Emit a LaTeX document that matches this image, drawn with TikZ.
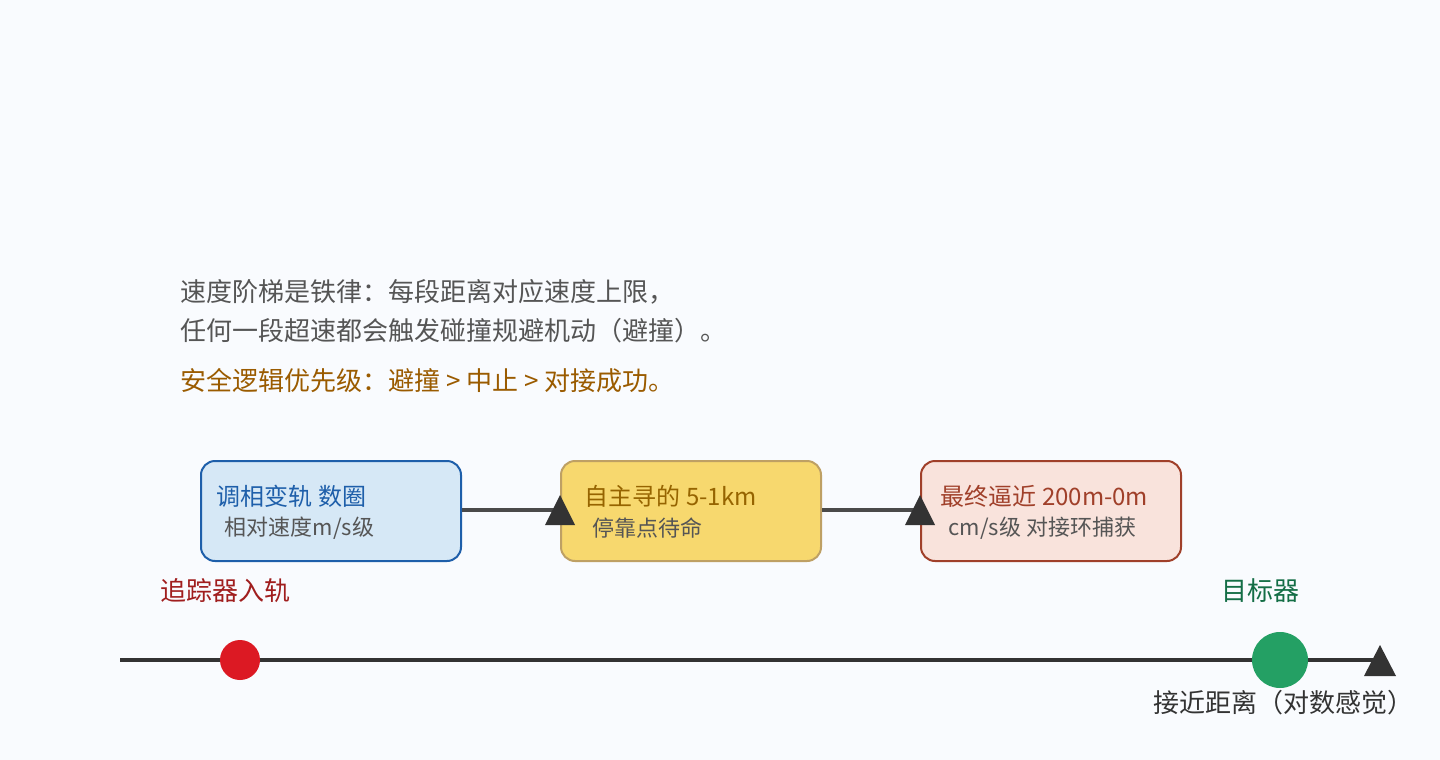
\documentclass[tikz,border=0pt]{standalone}
\usepackage{fontspec}
\setmainfont{Noto Sans CJK SC}
\begin{document}
\begin{tikzpicture}[x=0.75pt,y=-0.75pt,
 box/.style={draw,rounded corners=10.5pt,line width=1.5pt,minimum width=195pt,minimum height=75pt,anchor=north west},
 ttl/.style={anchor=west,font=\fontsize{18pt}{20pt}\selectfont},
 sub/.style={anchor=west,text=gray3,font=\fontsize{16.5pt}{19pt}\selectfont},
 lbl/.style={font=\fontsize{19.5pt}{22pt}\selectfont}]
\definecolor{bg}{HTML}{F9FBFE}
\definecolor{gray3}{HTML}{555555}
\definecolor{dark}{HTML}{333333}
\definecolor{orng}{HTML}{9A5B00}
\fill[bg] (0,0) rectangle (1440,760);
\useasboundingbox (0,0) rectangle (1440,760);
\node[anchor=west,text=gray3,lbl] (t1) at (176,292) {速度阶梯是铁律：每段距离对应速度上限，};
\node[anchor=west,text=gray3,lbl] (t2) at (176,331) {任何一段超速都会触发碰撞规避机动（避撞）。};
\node[anchor=west,text=orng,lbl] (t3) at (176,381) {安全逻辑优先级：避撞 > 中止 > 对接成功。};
% boxes
\node[box,draw={rgb,255:red,30;green,95;blue,170},fill={rgb,255:red,214;green,232;blue,246}] (b1) at (200,460) {};
\node[box,draw={rgb,255:red,190;green,160;blue,100},fill={rgb,255:red,247;green,216;blue,110}] (b2) at (560,460) {};
\node[box,draw={rgb,255:red,160;green,64;blue,42},fill={rgb,255:red,249;green,227;blue,220}] (b3) at (920,460) {};
\node[ttl,text={rgb,255:red,30;green,95;blue,170}] (b1t) at (212,496) {调相变轨 数圈};
\node[sub] (b1s) at (220,528) {相对速度m/s级};
\node[ttl,text={rgb,255:red,150;green,100;blue,0}] (b2t) at (580,496) {自主寻的 5-1km};
\node[sub] (b2s) at (588,528) {停靠点待命};
\node[ttl,text={rgb,255:red,160;green,64;blue,42}] (b3t) at (936,496) {最终逼近 200m-0m};
\node[sub] (b3s) at (944,528) {cm/s级 对接环捕获};
\coordinate (a1) at (560,510);
\coordinate (a2) at (920,510);
\draw[line width=3pt,draw={rgb,255:red,74;green,74;blue,74}] (b1.east|-a1) -- (a1);
\draw[line width=3pt,draw={rgb,255:red,74;green,74;blue,74}] (b2.east|-a2) -- (a2);
\fill[dark] (545,525) -- (560,495) -- (575,525) -- cycle;
\fill[dark] (905,525) -- (920,495) -- (935,525) -- cycle;
% axis
\coordinate (ax0) at (120,660);
\coordinate (ax1) at (1380,660);
\draw[line width=3pt,dark] (ax0) -- (ax1);
\fill[dark] (1364,676) -- (1380,645) -- (1396,676) -- cycle;
\node[circle,fill={rgb,255:red,220;green,25;blue,35},minimum size=30pt,inner sep=0] (ch) at (240,660) {};
\node[circle,fill={rgb,255:red,36;green,160;blue,100},minimum size=42pt,inner sep=0] (tg) at (1280,660) {};
\node[lbl,text={rgb,255:red,160;green,30;blue,30}] (chl) at (225,591) {追踪器入轨};
\node[lbl,text={rgb,255:red,20;green,110;blue,70}] (tgl) at (1260,591) {目标器};
\node[lbl,text=dark] (axl) at (1283,703) {接近距离（对数感觉）};
\end{tikzpicture}
\end{document}
